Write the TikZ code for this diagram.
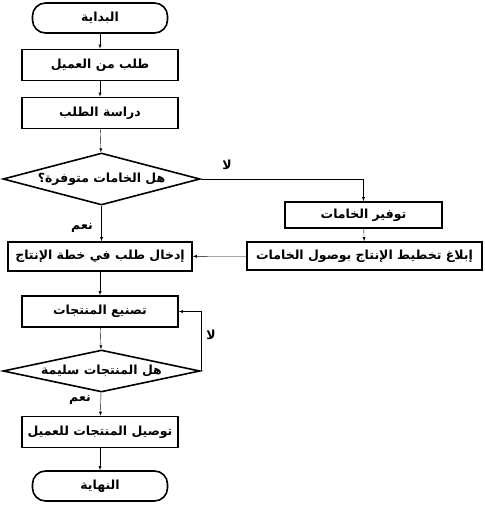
\documentclass[tikz,border=0pt]{standalone}
\usepackage{fontspec}
\newfontfamily\arabicfont[Script=Arabic]{DejaVu Sans}
\TeXXeTstate=1
\usetikzlibrary{shapes.geometric, arrows}
\newcommand{\artext}[1]{\arabicfont\bfseries\beginR #1\endR}
\tikzset{
    box/.style={
        draw,
        line width=1.6pt,
        minimum width=156pt,
        minimum height=31pt,
        inner sep=2pt,
        font=\fontsize{12.5}{14}\selectfont
    },
    term/.style={box, rounded corners=13pt, minimum width=135pt, minimum height=30pt},
    decision/.style={box, diamond, aspect=5, inner sep=0pt, minimum width=197pt, minimum height=52pt},
    line/.style={draw, ->, >=latex, thin},
    lbl/.style={font=\fontsize{12.5}{14}\selectfont}
}

\begin{document}
\begin{tikzpicture}[x=1pt,y=-1pt]
	\useasboundingbox (0,0) rectangle (484,505);
	\node[term] (start) at (100,18) {\artext{البداية}};
	\node[box] (req) at (100,65) {\artext{طلب من العميل}};
	\node[box] (study) at (100,113) {\artext{دراسة الطلب}};
	\node[decision] (avail) at (101.5,179) {\artext{هل الخامات متوفرة؟}};
	\node[box, minimum width=157pt, minimum height=26pt] (supply) at (363.5,215) {\artext{توفير الخامات}};
	\node[box, minimum width=235pt, minimum height=28pt] (notify) at (364.5,256) {\artext{إبلاغ تخطيط الإنتاج بوصول الخامات}};
	\node[box, minimum width=184pt, minimum height=29pt] (enter) at (100,256.5) {\artext{إدخال طلب في خطة الإنتاج}};
	\node[box] (make) at (100,311.5) {\artext{تصنيع المنتجات}};
	\node[decision, minimum height=42pt] (ok) at (101.5,371) {\artext{هل المنتجات سليمة}};
	\node[box] (deliver) at (100,432) {\artext{توصيل المنتجات للعميل}};
	\node[term] (finish) at (100,486) {\artext{النهاية}};
	% labels
	\node[lbl] (no1) at (227,165) {\artext{لا}};
	\node[lbl] (yes1) at (82,228) {\artext{نعم}};
	\node[lbl] (no2) at (211,335) {\artext{لا}};
	\node[lbl] (yes2) at (80,400) {\artext{نعم}};
	% connectors
	\path[line] (start) -- (req);
	\path[line] (req) -- (study);
	\path[line] (study) -- (avail);
	\path[line] (avail.east) -| (supply.north);
	\path[line] (supply) -- (notify);
	\path[line] (notify) -- (enter);
	\path[line] (avail.south) -- (enter.north -| avail.south);
	\path[line] (enter.south -| make.north) -- (make);
	\path[line] (make) -- (ok);
	\path[line] (ok.east) |- (make.east);
	\path[line] (ok) -- (deliver);
	\path[line] (deliver) -- (finish);
\end{tikzpicture}
\end{document}
